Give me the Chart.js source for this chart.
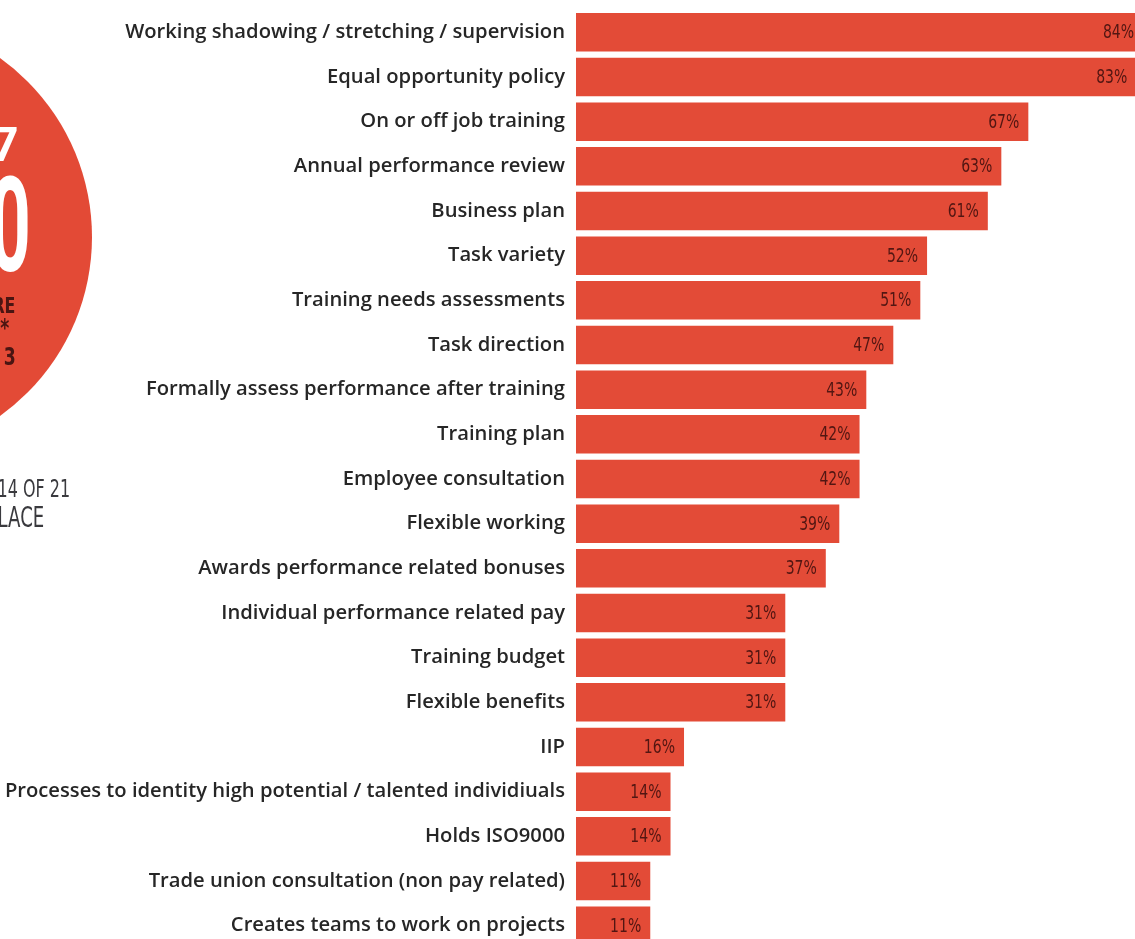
<!DOCTYPE html>
<html>
<head>
<meta charset="utf-8">
<script src="https://cdn.jsdelivr.net/npm/chart.js@4/dist/chart.umd.min.js"></script>
<style>
html,body{margin:0;padding:0;background:#fff;overflow:hidden;width:1135px;height:939px}
#wrap{position:absolute;left:0;top:0;width:1135px;height:950px}
</style>
</head>
<body>
<div id="wrap"><canvas id="c" width="1135" height="950"></canvas></div>
<script>
const categories = [
  "Working shadowing / stretching / supervision",
  "Equal opportunity policy",
  "On or off job training",
  "Annual performance review",
  "Business plan",
  "Task variety",
  "Training needs assessments",
  "Task direction",
  "Formally assess performance after training",
  "Training plan",
  "Employee consultation",
  "Flexible working",
  "Awards performance related bonuses",
  "Individual performance related pay",
  "Training budget",
  "Flexible benefits",
  "IIP",
  "Processes to identity high potential / talented individiuals",
  "Holds ISO9000",
  "Trade union consultation (non pay related)",
  "Creates teams to work on projects"
];
const values = [84, 83, 67, 63, 61, 52, 51, 47, 43, 42, 42, 39, 37, 31, 31, 31, 16, 14, 14, 11, 11];
const valueLabels = values.map(v => v + "%");
const badgeDigits = ["7", "0"];
const badgeLines = ["SCORE", "*", "2013"];
const rankLines = ["14 OF 21", "LACE"];

const BAR_COLOR = "#e34b37";
const LABEL_COLOR = "#521612";

function drawFit(ctx, text, font, color, sx, opts) {
  ctx.save();
  ctx.font = font;
  if (opts.spacing) ctx.letterSpacing = opts.spacing + "px";
  ctx.fillStyle = color;
  ctx.textAlign = "left";
  ctx.textBaseline = "alphabetic";
  const m = ctx.measureText(text);
  let x0;
  if (opts.right !== undefined) x0 = opts.right - sx * m.actualBoundingBoxRight;
  else x0 = opts.left + sx * m.actualBoundingBoxLeft;
  const y0 = opts.top + m.actualBoundingBoxAscent;
  ctx.translate(x0, y0);
  ctx.scale(sx, 1);
  ctx.fillText(text, 0, 0);
  ctx.restore();
}

const badgePlugin = {
  id: "badge",
  beforeDraw(chart) {
    const ctx = chart.ctx;
    ctx.save();
    ctx.beginPath();
    ctx.arc(-128, 237, 220, 0, Math.PI * 2);
    ctx.fillStyle = "#e34a36";
    ctx.fill();
    ctx.restore();
    drawFit(ctx, badgeDigits[0], "bold 48px Roboto", "#ffffff", 1.0, {right: 17, top: 127});
    drawFit(ctx, badgeDigits[1], "bold 131px Roboto", "#ffffff", 0.55, {right: 28, top: 175});
    drawFit(ctx, badgeLines[0], "bold 22px 'DejaVu Sans Condensed'", "#4a1512", 0.8, {right: 15, top: 297});
    drawFit(ctx, badgeLines[1], "bold 24px 'DejaVu Sans Condensed'", "#4a1512", 0.8, {right: 9, top: 318});
    drawFit(ctx, badgeLines[2], "bold 24px 'DejaVu Sans Condensed'", "#4a1512", 0.8, {right: 15, top: 347, spacing: 6});
    drawFit(ctx, rankLines[0], "24px 'DejaVu Sans Condensed'", "#3a3a3e", 0.74, {left: -1, top: 479});
    drawFit(ctx, rankLines[1], "28px 'DejaVu Sans Condensed'", "#3a3a3e", 0.72, {left: -1, top: 506});
  }
};

const valueLabelPlugin = {
  id: "valueLabels",
  afterDatasetsDraw(chart) {
    const ctx = chart.ctx;
    const meta = chart.getDatasetMeta(0);
    meta.data.forEach((bar, i) => {
      ctx.save();
      ctx.font = "19px 'DejaVu Sans Condensed'";
      ctx.fillStyle = LABEL_COLOR;
      ctx.textAlign = "right";
      ctx.textBaseline = "middle";
      ctx.translate(bar.x - 9, bar.y + 1);
      ctx.scale(0.82, 1);
      ctx.fillText(valueLabels[i], 0, 0);
      ctx.restore();
    });
  }
};

new Chart(document.getElementById("c"), {
  type: "bar",
  data: {
    labels: categories,
    datasets: [{
      data: values,
      backgroundColor: BAR_COLOR,
      borderWidth: 0,
      barPercentage: 0.862,
      categoryPercentage: 1.0
    }]
  },
  options: {
    indexAxis: "y",
    responsive: false,
    animation: false,
    devicePixelRatio: 1,
    layout: {padding: {top: 10, bottom: 2, left: 0, right: 0}},
    plugins: {legend: {display: false}, tooltip: {enabled: false}},
    scales: {
      x: {display: false, min: 0, max: 82.8},
      y: {
        grid: {display: false, drawTicks: false},
        border: {display: false},
        afterFit(scale) {
          scale.width = 576;
          scale.paddingTop = 0;
          scale.paddingBottom = 0;
        },
        ticks: {
          padding: 11,
          color: "#262626",
          font: {family: "'Open Sans'", size: 20.2, weight: "600"},
          autoSkip: false
        }
      }
    }
  },
  plugins: [badgePlugin, valueLabelPlugin]
});
</script>
</body>
</html>
